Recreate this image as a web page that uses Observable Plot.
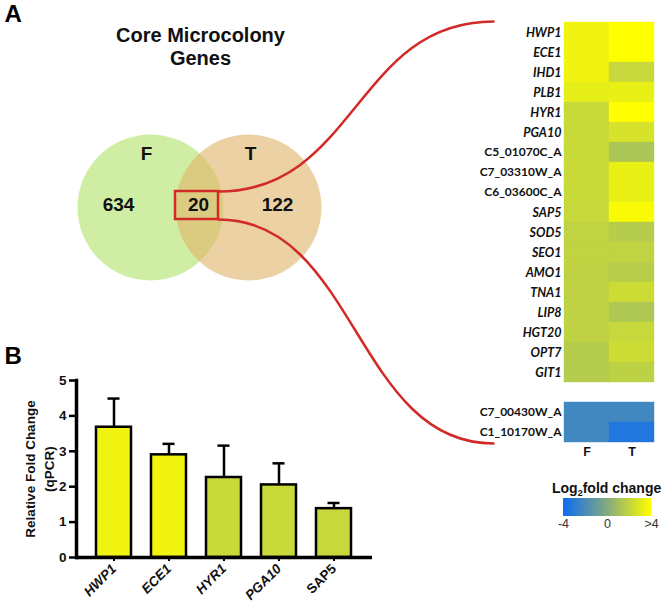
<!DOCTYPE html>
<html><head><meta charset="utf-8">
<script src="https://cdn.jsdelivr.net/npm/d3@7"></script>
<script src="https://cdn.jsdelivr.net/npm/@observablehq/plot@0.6"></script>
<style>
body{margin:0;background:#fff;}
#root{position:relative;width:664px;height:609px;overflow:hidden;font-family:"Liberation Sans",Arial,sans-serif;}
#root > *{position:absolute;}
</style></head><body><div id="root"></div>
<script>
// ---------------- data ----------------
const vennSets = ["F", "T"];
const vennCounts = [634, 20, 122]; // F only, F∩T, T only
const titleText = "Core Microcolony\nGenes";

const heatSamples = ["F", "T"];
const heatGenes = ["HWP1","ECE1","IHD1","PLB1","HYR1","PGA10","C5_01070C_A","C7_03310W_A","C6_03600C_A","SAP5","SOD5","SEO1","AMO1","TNA1","LIP8","HGT20","OPT7","GIT1","C7_00430W_A","C1_10170W_A"];
const systematicNames = ["C5_01070C_A","C7_03310W_A","C6_03600C_A","C7_00430W_A","C1_10170W_A"];
const foldF = [3.5, 3.5, 3.5, 3.2, 2.2, 2.2, 2.2, 2.2, 2.2, 2.15, 1.95, 1.95, 1.9, 1.9, 1.9, 1.9, 1.6, 1.6, -2.25, -2.25];
const foldT = [4.6, 4.6, 2.15, 3.3, 4.3, 2.7, 1.3, 3.3, 3.3, 3.8, 1.6, 1.95, 1.7, 2.35, 1.4, 2.15, 2.35, 1.85, -2.25, -3.3];

const legendTicks = [-4, 0, 4];
const legendTickLabels = ["-4", "0", ">4"];

const barGenes = ["HWP1","ECE1","HYR1","PGA10","SAP5"];
const barMean = [3.68, 2.9, 2.26, 2.05, 1.38];
const barUpper = [4.49, 3.21, 3.16, 2.66, 1.54];
const barTicks = [0, 1, 2, 3, 4, 5];
const barYLabel = "Relative Fold Change\n(qPCR)";

// ---------------- styling / layout ----------------
const ARIAL = '"Liberation Sans", Arial, sans-serif';
const CALIBRI = 'Lato, "Open Sans", sans-serif';
const RED = "#d22a27";
const colorOpts = {type: "linear", domain: [-4, 0, 4], range: ["#0d6cf2", "#84aa80", "#ffff00"], interpolate: "rgb"};
const root = document.getElementById("root");
function place(el, left, top) { el.style.position = "absolute"; el.style.left = left + "px"; el.style.top = top + "px"; root.appendChild(el); return el; }

// ---------------- overlay: Venn, connectors, titles ----------------
const layout = {
  circles: [{x: 150, y: 207}, {x: 248, y: 207}],
  setLabels: [{x: 146, y: 153}, {x: 250, y: 153}],
  counts: [{x: 118, y: 204}, {x: 198, y: 204}, {x: 277, y: 204}],
  box: {x1: 175, x2: 218, y1: 191, y2: 219},
  curves: [
    {side: "up", x: 218, y: 191}, {side: "up", x: 493, y: 21},
    {side: "down", x: 218, y: 219}, {side: "down", x: 493, y: 443}
  ],
  letters: [{t: "A", x: 4, y: 14}, {t: "B", x: 4, y: 356}]
};
const circleData = layout.circles.map((c, i) => ({...c, set: vennSets[i]}));
const setLabelData = layout.setLabels.map((p, i) => ({...p, label: vennSets[i]}));
const countData = layout.counts.map((p, i) => ({...p, label: String(vennCounts[i])}));

const overlay = Plot.plot({
  width: 664, height: 609, margin: 0,
  x: {domain: [0, 664], range: [0, 664], axis: null},
  y: {domain: [0, 609], range: [0, 609], axis: null},
  style: {background: "transparent", fontFamily: ARIAL, overflow: "visible"},
  marks: [
    Plot.dot(circleData.filter(d => d.set === "F"), {x: "x", y: "y", r: 73, fill: "#cfeea4", stroke: null}),
    Plot.dot(circleData.filter(d => d.set === "T"), {x: "x", y: "y", r: 73, fill: "#e0b56c", fillOpacity: 0.62, stroke: null}),
    Plot.text(setLabelData, {x: "x", y: "y", text: "label", fontSize: 19, fontWeight: "bold", fill: "#111"}),
    Plot.text(countData, {x: "x", y: "y", text: "label", fontSize: 19, fontWeight: "bold", fill: "#111"}),
    Plot.rect([layout.box], {x1: "x1", x2: "x2", y1: "y1", y2: "y2", fill: "none", stroke: RED, strokeWidth: 2.5}),
    Plot.line(layout.curves, {x: "x", y: "y", z: "side", curve: "bump-x", stroke: RED, strokeWidth: 2.5}),
    Plot.text([titleText], {x: () => 200, y: () => 46, text: d => d, fontSize: 20, fontWeight: "bold", lineHeight: 1.15, fill: "#111"}),
    Plot.text(layout.letters, {x: "x", y: "y", text: "t", fontSize: 24, fontWeight: "bold", textAnchor: "start", fill: "#000"})
  ]
});
place(overlay, 0, 0);

// ---------------- heatmap ----------------
const heatData = heatGenes.flatMap((g, i) => [
  {gene: g, sample: heatSamples[0], value: foldF[i]},
  {gene: g, sample: heatSamples[1], value: foldT[i]}
]);
const firstDown = foldF.findIndex(v => v < 0);
const yDomain = [...heatGenes.slice(0, firstDown), " ", ...heatGenes.slice(firstDown)];
const labelOpts = {frameAnchor: "left", textAnchor: "end", dx: -3, fontSize: 12, fontWeight: "bold", fontFamily: CALIBRI, fill: "#111"};

const heat = Plot.plot({
  width: 204, height: 470, marginLeft: 104, marginRight: 10, marginTop: 22, marginBottom: 28,
  style: {background: "transparent", fontFamily: ARIAL, overflow: "visible"},
  x: {domain: heatSamples, padding: 0, axis: null},
  y: {domain: yDomain, padding: 0, axis: null},
  color: colorOpts,
  marks: [
    Plot.cell(heatData, {x: "sample", y: "gene", fill: "value", stroke: "value", strokeWidth: 0.4}),
    Plot.text(heatGenes.filter(g => !systematicNames.includes(g)), {...labelOpts, y: d => d, text: d => d, fontStyle: "italic", fontSize: 12.5}),
    Plot.text(heatGenes.filter(g => systematicNames.includes(g)), {...labelOpts, y: d => d, text: d => d}),
    Plot.axisX({tickSize: 0, tickPadding: 5, fontSize: 12.5, fontWeight: "bold", fill: "#111", label: null})
  ]
});
place(heat, 460, 0);

// ---------------- legend ----------------
const legTitle = document.createElement("div");
legTitle.innerHTML = 'Log<sub style="font-size:9px;vertical-align:-3px;line-height:0">2</sub>fold change';
legTitle.style.cssText = `font-family:${ARIAL};font-size:14px;font-weight:bold;color:#111;white-space:nowrap;line-height:16px;`;
place(legTitle, 552, 480);

const legend = Plot.legend({
  color: colorOpts,
  width: 112, height: 38, marginTop: 0, marginBottom: 20, marginLeft: 10, marginRight: 14,
  ticks: legendTicks, tickSize: 0,
  tickFormat: d => legendTickLabels[legendTicks.indexOf(d)],
  label: null,
  style: {background: "transparent", fontFamily: ARIAL, fontSize: "12.5px", color: "#333", overflow: "visible"}
});
legend.querySelectorAll(".tick line").forEach(l => l.remove());
place(legend, 553, 498);

// ---------------- bar chart ----------------
const barData = barGenes.map((g, i) => ({gene: g, mean: barMean[i], upper: barUpper[i], heat: foldF[heatGenes.indexOf(g)]}));
const barItalic = barGenes.filter(g => g !== "SAP5");
const xAxisOpts = {tickSize: 4, tickPadding: 5, tickRotate: -45, fontSize: 13.5, fontWeight: "bold", fill: "#111", strokeWidth: 2, label: null};

const bars = Plot.plot({
  width: 380, height: 249, marginLeft: 76, marginRight: 8, marginTop: 20, marginBottom: 52,
  style: {background: "transparent", fontFamily: ARIAL, fontWeight: "bold", overflow: "visible"},
  x: {domain: barGenes, paddingInner: 0.355, paddingOuter: 0.33, axis: null},
  y: {domain: [0, 5], axis: null},
  color: colorOpts,
  marks: [
    Plot.ruleX(barData, {x: "gene", y1: "mean", y2: "upper", stroke: "#000", strokeWidth: 2.5}),
    Plot.tickY(barData, {x: "gene", y: "upper", stroke: "#000", strokeWidth: 2.5, insetLeft: 11.5, insetRight: 11.5}),
    Plot.barY(barData, {x: "gene", y: "mean", fill: "heat", stroke: "#000", strokeWidth: 2.5}),
    Plot.ruleY([0], {stroke: "#000", strokeWidth: 3.5}),
    Plot.frame({anchor: "left", stroke: "#000", strokeWidth: 3.5}),
    Plot.axisY({ticks: barTicks, tickFormat: "d", tickSize: 7, tickPadding: 3, fontSize: 13.5, fontWeight: "bold", fill: "#111", strokeWidth: 2.5, label: null}),
    Plot.axisX({...xAxisOpts, ticks: barItalic, fontStyle: "italic"}),
    Plot.axisX({...xAxisOpts, ticks: barGenes.filter(g => !barItalic.includes(g))}),
    Plot.text([barYLabel], {frameAnchor: "left", rotate: -90, dx: -38, textAnchor: "middle", text: d => d, fontSize: 13.5, fontWeight: "bold", lineHeight: 1.4, fill: "#111"})
  ]
});
place(bars, 0, 360);
</script></body></html>
